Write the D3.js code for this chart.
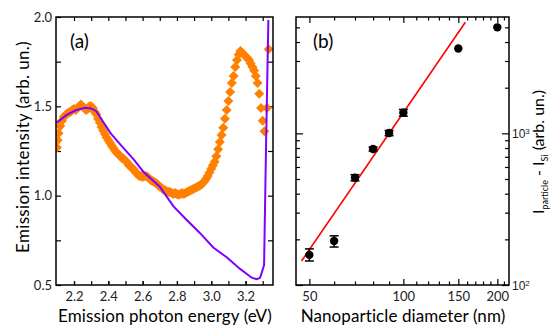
<!DOCTYPE html>
<html><head><meta charset="utf-8">
<script src="https://cdn.jsdelivr.net/npm/d3@7"></script>
<style>
body{margin:0;background:#fff;}
svg{display:block;font-family:Lato,"Open Sans",sans-serif;}
</style></head>
<body><svg id="c" width="552" height="325"></svg>
<script>
// ---- Panel (a) data ----
const energyA = [2.10,2.105,2.11,2.12,2.13,2.14,2.15,2.16,2.17,2.18,2.19,2.20,2.21,2.22,2.23,2.24,2.25,2.26,2.27,2.28,2.29,
2.30,2.31,2.32,2.33,2.34,2.35,2.36,2.37,2.38,2.39,2.40,2.41,2.42,2.43,2.44,2.45,2.46,2.47,2.48,2.49,
2.50,2.51,2.52,2.53,2.54,2.55,2.56,2.57,2.58,2.59,2.60,2.61,2.62,2.63,2.64,2.65,2.66,2.67,2.68,2.69,
2.70,2.71,2.72,2.73,2.74,2.75,2.76,2.77,2.78,2.79,2.80,2.81,2.82,2.83,2.84,2.85,2.86,2.87,2.88,2.89,
2.90,2.91,2.92,2.93,2.94,2.95,2.96,2.97,2.98,2.99,3.00,3.01,3.02,3.03,3.04,3.05,3.06,3.07,3.08,3.09,
3.10,3.11,3.12,3.13,3.14,3.15,3.16,3.17,3.18,3.19,3.20,3.21,3.22,3.23,3.24,3.25,3.26,3.27,3.28,3.29,
3.30,3.31,3.325,3.335];
const emission = [1.27,1.31,1.35,1.39,1.42,1.44,1.45,1.46,1.465,1.47,1.48,1.485,1.48,1.49,1.50,1.51,1.50,1.49,1.48,1.485,1.50,
1.50,1.49,1.47,1.455,1.43,1.41,1.385,1.365,1.345,1.325,1.31,1.295,1.28,1.265,1.25,1.24,1.23,1.22,1.21,1.205,
1.195,1.185,1.17,1.16,1.155,1.145,1.13,1.12,1.11,1.11,1.105,1.11,1.11,1.105,1.095,1.085,1.08,1.075,1.07,1.06,
1.05,1.045,1.035,1.03,1.025,1.02,1.02,1.015,1.01,1.015,1.01,1.005,1.01,1.015,1.01,1.015,1.02,1.025,1.03,1.035,
1.04,1.045,1.05,1.055,1.06,1.07,1.08,1.095,1.11,1.13,1.15,1.17,1.19,1.22,1.26,1.30,1.34,1.38,1.43,1.48,
1.53,1.58,1.63,1.67,1.72,1.76,1.79,1.81,1.80,1.79,1.78,1.77,1.76,1.74,1.72,1.70,1.67,1.63,1.57,1.49,
1.42,1.36,1.49,1.82];
const modelE = [2.095,2.157,2.21,2.264,2.30,2.33,2.356,2.414,2.472,2.55,2.604,2.70,2.78,2.857,2.935,3.012,3.09,3.168,3.236,3.265,3.285,3.308,3.32,3.333];
const modelI = [1.405,1.452,1.478,1.492,1.488,1.473,1.433,1.349,1.284,1.2,1.134,1.05,0.94,0.864,0.79,0.71,0.655,0.59,0.541,0.532,0.54,0.612,1.31,1.983];
const xTicksA = [2.2,2.4,2.6,2.8,3.0,3.2];
const xMinorA = [2.2,2.3,2.4,2.5,2.6,2.7,2.8,2.9,3.0,3.1,3.2,3.3];
const yTicksA = [0.5,1.0,1.5,2.0];
const yMinorA = [0.75,1.25,1.75];

// ---- Panel (b) data ----
const diameter = [50,60,70,80,90,100,150,200];
const intensity = [158,195,510,788,1005,1368,3630,5000];
const errLo = [14,17,24,24,40,70,0,0];
const errHi = [15,16,24,24,40,70,0,0];
const fitD = [47.2,158];
const fitI = [144,5400];
const xTicksB = [50,100,150,200];
const xMinorB = [60,70,80,90,110,120,130,140,160,170,180,190,210];
const yTicksB = [100,1000];
const yMinorB = [200,300,400,500,600,700,800,900,2000,3000,4000,5000];

const svg = d3.select("#c");
const A = {l:56,r:273,t:17,b:285};
const B = {l:296,r:509,t:17,b:285};

const xA = d3.scaleLinear().domain([2.095,3.36]).range([A.l,A.r]);
const yA = d3.scaleLinear().domain([0.5,2.0]).range([A.b,A.t]);
const xB = d3.scaleLog().domain([45.3,218]).range([B.l,B.r]);
const yB = d3.scaleLog().domain([100,5850]).range([B.b,B.t]);

const tickFont = 13;
function styleAxis(g){
  g.select(".domain").remove();
  g.selectAll(".tick line").attr("stroke","#000").attr("stroke-width",1.2);
  g.selectAll(".tick text").filter(function(){return this.textContent==="";}).remove();
  g.selectAll(".tick text").attr("font-size",tickFont).attr("fill","#222").attr("font-family","Lato,sans-serif");
}
// widen a label with letter spacing to the reference's width
function fitWidth(t, w){
  const n = t.text().length;
  const cur = t.node().getComputedTextLength();
  t.attr("letter-spacing", ((w-cur)/n).toFixed(2));
}

// ---- Panel (a) ----
const gA = svg.append("g");
svg.append("clipPath").attr("id","clipA").append("rect")
  .attr("x",A.l).attr("y",A.t).attr("width",A.r-A.l).attr("height",A.b-A.t);

gA.append("g").attr("transform",`translate(0,${A.b})`)
  .call(d3.axisBottom(xA).tickValues(xMinorA).tickSize(-4).tickFormat("")).call(styleAxis);
gA.append("g").attr("transform",`translate(0,${A.b})`)
  .call(d3.axisBottom(xA).tickValues(xTicksA).tickSize(-4).tickPadding(7).tickFormat(d3.format(".1f"))).call(styleAxis);
gA.append("g").attr("transform",`translate(0,${A.t})`)
  .call(d3.axisTop(xA).tickValues(xMinorA).tickSize(-4).tickFormat("")).call(styleAxis);
gA.append("g").attr("transform",`translate(${A.l},0)`)
  .call(d3.axisLeft(yA).tickValues(yTicksA).tickSize(-5).tickPadding(4).tickFormat(d3.format(".1f"))).call(styleAxis);
gA.append("g").attr("transform",`translate(${A.l},0)`)
  .call(d3.axisLeft(yA).tickValues(yMinorA).tickSize(-5).tickFormat("")).call(styleAxis);
gA.append("g").attr("transform",`translate(${A.r},0)`)
  .call(d3.axisRight(yA).tickValues(yMinorA.concat([1.0,1.5])).tickSize(-5).tickFormat("")).call(styleAxis);

const ptsA = energyA.map((e,i)=>({e, v:emission[i]}));
gA.append("g").attr("clip-path","url(#clipA)")
  .selectAll("path").data(ptsA).join("path")
  .attr("transform",d=>`translate(${xA(d.e)},${yA(d.v)}) rotate(45)`)
  .attr("d",d3.symbol(d3.symbolSquare,50))
  .attr("fill","#ff8000");

const modelPts = modelE.map((e,i)=>[e,modelI[i]]);
gA.append("path").attr("clip-path","url(#clipA)")
  .datum(modelPts)
  .attr("d",d3.line().x(d=>xA(d[0])).y(d=>yA(d[1])))
  .attr("fill","none").attr("stroke","#8000ff").attr("stroke-width",2);

gA.append("rect").attr("x",A.l).attr("y",A.t).attr("width",A.r-A.l).attr("height",A.b-A.t)
  .attr("fill","none").attr("stroke","#000").attr("stroke-width",1.5);

gA.append("text").attr("x",70).attr("y",48).attr("font-size",19).text("(a)");
const xlA = gA.append("text").attr("x",165).attr("y",321.5).attr("text-anchor","middle")
  .attr("font-size",17).text("Emission photon energy (eV)");
fitWidth(xlA, 214);
const ylA = gA.append("text").attr("transform",`translate(29,147) rotate(-90)`)
  .attr("text-anchor","middle").attr("font-size",17).text("Emission intensity (arb. un.)");
fitWidth(ylA, 212);

// ---- Panel (b) ----
const gB = svg.append("g");
gB.append("g").attr("transform",`translate(0,${B.b})`)
  .call(d3.axisBottom(xB).tickValues(xMinorB).tickSize(-3.5).tickFormat("")).call(styleAxis);
gB.append("g").attr("transform",`translate(0,${B.b})`)
  .call(d3.axisBottom(xB).tickValues(xTicksB).tickSize(-6).tickPadding(7).tickFormat(d3.format("d"))).call(styleAxis);
gB.append("g").attr("transform",`translate(0,${B.t})`)
  .call(d3.axisTop(xB).tickValues(xMinorB).tickSize(-3.5).tickFormat("")).call(styleAxis);
gB.append("g").attr("transform",`translate(0,${B.t})`)
  .call(d3.axisTop(xB).tickValues(xTicksB).tickSize(-6).tickFormat("")).call(styleAxis);
gB.append("g").attr("transform",`translate(${B.l},0)`)
  .call(d3.axisLeft(yB).tickValues(yMinorB).tickSize(-4).tickFormat("")).call(styleAxis);
gB.append("g").attr("transform",`translate(${B.l},0)`)
  .call(d3.axisLeft(yB).tickValues(yTicksB).tickSize(-7).tickFormat("")).call(styleAxis);
gB.append("g").attr("transform",`translate(${B.r},0)`)
  .call(d3.axisRight(yB).tickValues(yMinorB).tickSize(-4).tickFormat("")).call(styleAxis);
const yAxB = gB.append("g").attr("transform",`translate(${B.r},0)`)
  .call(d3.axisRight(yB).tickValues(yTicksB).tickSize(-7).tickFormat("")).call(styleAxis);
yAxB.selectAll(".tick").append("text").attr("x",3).attr("dy","0.35em").attr("font-size",12).attr("fill","#222")
  .each(function(d){
    const t = d3.select(this);
    t.append("tspan").text("10");
    t.append("tspan").attr("dy","-0.45em").attr("font-size",8).text(Math.round(Math.log10(d)));
  });

svg.append("clipPath").attr("id","clipB").append("rect")
  .attr("x",B.l).attr("y",B.t).attr("width",B.r-B.l).attr("height",B.b-B.t);

gB.append("line").attr("clip-path","url(#clipB)")
  .attr("x1",xB(fitD[0])).attr("y1",yB(fitI[0])).attr("x2",xB(fitD[1])).attr("y2",yB(fitI[1]))
  .attr("stroke","#ff0000").attr("stroke-width",1.6);

const ptsB = diameter.map((d,i)=>({d, v:intensity[i], lo:intensity[i]-errLo[i], hi:intensity[i]+errHi[i]}));
const eb = gB.append("g").selectAll("g").data(ptsB.filter(p=>p.hi>p.lo)).join("g");
eb.append("line").attr("x1",p=>xB(p.d)).attr("x2",p=>xB(p.d)).attr("y1",p=>yB(p.lo)).attr("y2",p=>yB(p.hi))
  .attr("stroke","#000").attr("stroke-width",1.5);
eb.append("line").attr("x1",p=>xB(p.d)-4.5).attr("x2",p=>xB(p.d)+4.5).attr("y1",p=>yB(p.lo)).attr("y2",p=>yB(p.lo))
  .attr("stroke","#000").attr("stroke-width",1.5);
eb.append("line").attr("x1",p=>xB(p.d)-4.5).attr("x2",p=>xB(p.d)+4.5).attr("y1",p=>yB(p.hi)).attr("y2",p=>yB(p.hi))
  .attr("stroke","#000").attr("stroke-width",1.5);
gB.append("g").selectAll("circle").data(ptsB).join("circle")
  .attr("cx",p=>xB(p.d)).attr("cy",p=>yB(p.v)).attr("r",4.2).attr("fill","#000");

gB.append("rect").attr("x",B.l).attr("y",B.t).attr("width",B.r-B.l).attr("height",B.b-B.t)
  .attr("fill","none").attr("stroke","#000").attr("stroke-width",1.5);

gB.append("text").attr("x",313).attr("y",48).attr("font-size",19).text("(b)");
const xlB = gB.append("text").attr("x",403).attr("y",321.5).attr("text-anchor","middle")
  .attr("font-size",17).text("Nanoparticle diameter (nm)");
fitWidth(xlB, 205);
const yl = gB.append("text").attr("transform",`translate(544,152) rotate(-90)`)
  .attr("text-anchor","middle").attr("font-size",16);
yl.append("tspan").text("I");
yl.append("tspan").attr("font-size",9).attr("dy","4").text("particle");
yl.append("tspan").attr("dy","-4").text(" - I");
yl.append("tspan").attr("font-size",9).attr("dy","4").text("Si");
yl.append("tspan").attr("dy","-4").text(" (arb. un.)");
</script></body></html>
